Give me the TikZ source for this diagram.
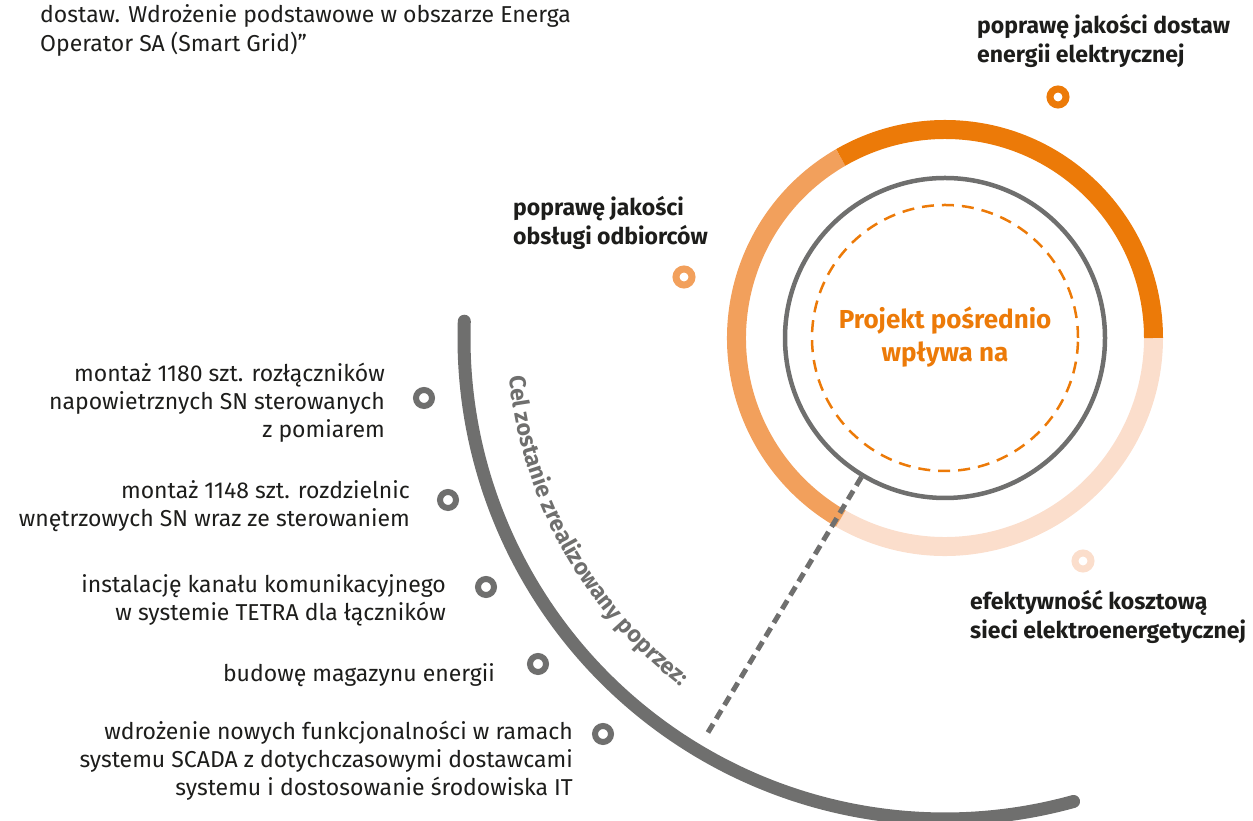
\documentclass[tikz,border=0pt]{standalone}
\usepackage{fontspec}
\setmainfont{Fira Sans}
\usetikzlibrary{decorations.text}
\definecolor{dorange}{HTML}{EC7A08}
\definecolor{morange}{HTML}{F2A05C}
\definecolor{lorange}{HTML}{FBDECC}
\definecolor{dgray}{HTML}{6F6F6E}
\definecolor{txt}{HTML}{1D1D1B}
\begin{document}
\begin{tikzpicture}[x=1pt,y=1pt,
  ringseg/.style={line width=19pt},
  dotbase/.style={circle, line width=6pt, minimum size=16pt, inner sep=0pt},
  dotg/.style={dotbase, draw=dgray},
  doto/.style={dotbase, line width=7pt, draw=#1},
  item/.style={anchor=east, align=right, inner sep=0pt, text=txt, font=\fontsize{23}{28}\selectfont},
  label/.style={anchor=west, align=left, inner sep=0pt, text=txt, font=\fontsize{23}{29}\selectfont\bfseries},
  garc/.style={line width=13pt, draw=dgray, line cap=round},
  gline/.style={line width=5pt, draw=dgray, dash pattern=on 10pt off 6pt}
]
\useasboundingbox (0,0) rectangle (1253,821);
\coordinate (C) at (945,483);

% ring
\draw[ringseg, lorange] ([shift={(240:208.5)}]C) arc[start angle=240, end angle=360, radius=208.5];
\draw[ringseg, morange] ([shift={(120:208.5)}]C) arc[start angle=120, end angle=240, radius=208.5];
\draw[ringseg, dorange] ([shift={(0:208.5)}]C) arc[start angle=0, end angle=120, radius=208.5];

% inner circles
\node[circle, draw=dgray, line width=4.5pt, minimum size=320pt, inner sep=0pt] (inner) at (C) {};
\node[circle, draw=dorange, line width=2.5pt, dash pattern=on 12pt off 8pt, minimum size=266pt, inner sep=0pt] (dashc) at (C) {};
\node[align=center, inner sep=0pt, text=dorange, font=\fontsize{26}{33}\selectfont\bfseries] (title) at (945,483.5) {Projekt pośrednio\\wpływa na};

% big gray arc
\draw[garc] ([shift={(178:481)}]C) arc[start angle=178, end angle=285.5, radius=481];

% dashed line
\coordinate (dend) at ([shift={(239:466)}]C);
\draw[gline] (inner.239) -- (dend);

% text along arc
\path[decorate, decoration={text along path, text color=dgray,
  text={|\fontsize{23}{23}\selectfont\bfseries|Cel zostanie zrealizowany poprzez:}}]
  ([shift={(185:437)}]C) arc[start angle=185, end angle=245, radius=437];

% orange dots and labels
\node[doto=dorange] (o1) at (1058,724) {};
\node[doto=morange] (o2) at (684,544) {};
\node[doto=lorange] (o3) at (1083,260) {};
\node[label] (l1) at (977,780.5) {poprawę jakości dostaw\\energii elektrycznej};
\node[label] (l2) at (513,598.5) {poprawę jakości\\obsługi odbiorców};
\node[label] (l3) at (970,204.5) {efektywność kosztową\\sieci elektroenergetycznej};

% top-left text
\node[anchor=west, align=left, inner sep=0pt, text=txt, font=\fontsize{23}{29}\selectfont] (top) at (40,790.5) {dostaw. Wdrożenie podstawowe w obszarze Energa\\Operator SA (Smart Grid)”};

% gray dots and items
\node[dotg] (g1) at (424,423) {};
\node[dotg] (g2) at (448,321) {};
\node[dotg] (g3) at (486,234) {};
\node[dotg] (g4) at (538,157) {};
\node[dotg] (g5) at (603,87) {};
\node[item] (i1) at (385,418) {montaż 1180 szt. rozłączników\\napowietrznych SN sterowanych\\z pomiarem};
\node[item] (i2) at (410,315) {montaż 1148 szt. rozdzielnic\\wnętrzowych SN wraz ze sterowaniem};
\node[item] (i3) at (446,221) {instalację kanału komunikacyjnego\\w systemie TETRA dla łączników};
\node[item] (i4) at (495,146) {budowę magazynu energii};
\node[item] (i5) at (573,60) {wdrożenie nowych funkcjonalności w ramach\\systemu SCADA z dotychczasowymi dostawcami\\systemu i dostosowanie środowiska IT};
\end{tikzpicture}
\end{document}
